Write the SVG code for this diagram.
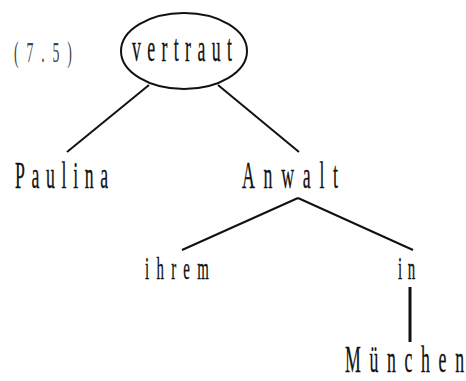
<svg xmlns="http://www.w3.org/2000/svg" width="466" height="381" viewBox="0 0 466 381">
<style>
  .t { font-family: "Liberation Serif", "Times New Roman", serif; fill: #111; stroke: #111; stroke-width: 0.3; }
  .big { font-size: 37px; }
  .small { font-size: 31px; }
  .lbl { font-size: 30px; fill: #444; stroke: none; }
  .edge { stroke: #111; stroke-width: 2; fill: none; stroke-linecap: butt; }
</style>
<rect width="466" height="381" fill="#fff"/>
<g id="label">
  <text class="t lbl" transform="translate(14,62) scale(0.46,1)" textLength="126" lengthAdjust="spacing">(7.5)</text>
</g>
<g id="connectors">
  <line class="edge" x1="149" y1="85" x2="67" y2="152"/>
  <line class="edge" x1="218" y1="85" x2="299" y2="152"/>
  <line class="edge" x1="298" y1="198" x2="182" y2="250"/>
  <line class="edge" x1="298" y1="198" x2="413" y2="250"/>
  <line class="edge" x1="410" y1="287" x2="410" y2="342" style="stroke-width:3"/>
</g>
<g id="node-vertraut">
  <ellipse cx="184" cy="51" rx="63" ry="38" fill="none" stroke="#111" stroke-width="2"/>
  <text class="t big" transform="translate(132,61) scale(0.48,1)" textLength="208" lengthAdjust="spacing">vertraut</text>
</g>
<g id="node-paulina">
  <text class="t big" transform="translate(15,188) scale(0.48,1)" textLength="194" lengthAdjust="spacing">Paulina</text>
</g>
<g id="node-anwalt">
  <text class="t big" transform="translate(242,188) scale(0.48,1)" textLength="200" lengthAdjust="spacing">Anwalt</text>
</g>
<g id="node-ihrem">
  <text class="t small" transform="translate(145,279) scale(0.48,1)" textLength="133" lengthAdjust="spacing">ihrem</text>
</g>
<g id="node-in">
  <text class="t small" transform="translate(398,279) scale(0.48,1)" textLength="36" lengthAdjust="spacing">in</text>
</g>
<g id="node-muenchen">
  <text class="t big" transform="translate(345,372) scale(0.48,1)" textLength="248" lengthAdjust="spacing">München</text>
</g>
</svg>
